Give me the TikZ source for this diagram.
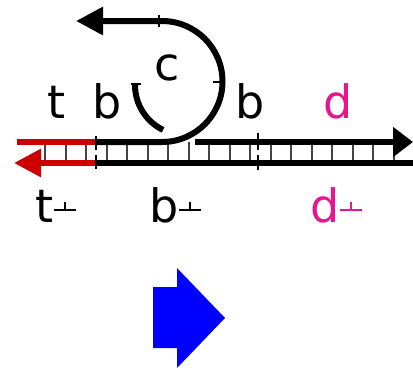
\documentclass[tikz,border=0pt]{standalone}
\usepackage{fontspec}
\setmainfont{DejaVu Sans}
\usetikzlibrary{arrows.meta}
\definecolor{cRed}{HTML}{CC0000}
\definecolor{cPink}{HTML}{E6168F}
\definecolor{cBlue}{HTML}{0000FF}
\definecolor{cRung}{HTML}{444444}
\newcommand{\perpmark}{\hspace{1pt}\raisebox{11pt}{\rule{22pt}{2pt}\llap{\rule{2pt}{9pt}\hspace{10pt}}}}

\begin{document}
\begin{tikzpicture}[
  x=1pt, y=-1pt,
  strand/.style={line width=6pt},
  rung/.style={line width=2pt, cRung},
  tick/.style={line width=2pt},
  lbl/.style={font=\fontsize{46}{46}\selectfont, inner sep=0pt, anchor=base},
  plbl/.style={lbl, anchor=base west},
  head/.style={-{Triangle[length=27pt,width=27pt]}},
  rhead/.style={-{Triangle[length=20pt,width=29pt]}},
]
\useasboundingbox (0,0) rectangle (413,370);

% ---------- rungs between the strands ----------
\foreach \k in {0,...,17}
  \draw[rung] ({45+20.5*\k},142) -- ({45+20.5*\k},163);

% ---------- toehold t / t* (red) ----------
\draw[strand, cRed] (17,142) -- (97,142);
\draw[strand, cRed, head] (97,163) -- (14,163);

% ---------- bottom strand and top strand ----------
\draw[strand] (97,163) -- (413,163);
\draw[strand, rhead] (195,142) -- (413,142);
\draw[strand, head] (97,142) -- (162,142)
  arc[start angle=90, end angle=-90, radius=60.5] -- (76,21);
\draw[strand] (135,85) arc[start angle=180, end angle=116, radius=50];

% ---------- domain boundaries ----------
\draw[tick] (131,84) -- (141,84);
\draw[tick] (213,81.5) -- (225,81.5);
\draw[tick] (159,15) -- (159,27);
\draw[tick] (96,136) -- (96,150) (96,155) -- (96,169);
\draw[tick] (258,133) -- (258,150) (258,155) -- (258,170);

% ---------- domain labels ----------
\node[lbl] (t) at (57,118) {t};
\node[lbl] (b1) at (107,118) {b};
\node[lbl] (c) at (167,80) {c};
\node[lbl] (b2) at (250,118) {b};
\node[lbl, text=cPink] (d) at (338,118) {d};
\node[plbl] (tc) at (35,222) {t\perpmark};
\node[plbl] (bc) at (149,222) {b\perpmark};
\node[plbl, text=cPink] (dc) at (310,222) {d\perpmark};

% ---------- reaction arrow ----------
\fill[cBlue] (153,287) -- (177,287) -- (177,268) -- (225,318)
  -- (177,368) -- (177,348) -- (153,348) -- cycle;

\end{tikzpicture}
\end{document}
